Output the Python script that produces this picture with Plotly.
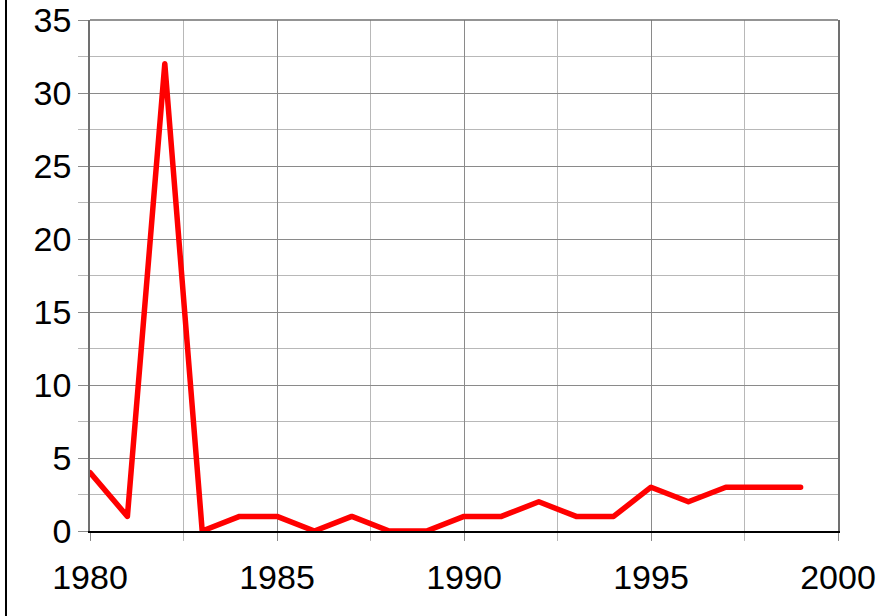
import plotly.graph_objects as go

years = list(range(1980, 2000))
values = [4, 1, 32, 0, 1, 1, 0, 1, 0, 0, 1, 1, 2, 1, 1, 3, 2, 3, 3, 3]

fig = go.Figure()
fig.add_trace(go.Scatter(x=years, y=values, mode="lines",
                         line=dict(color="#ff0000", width=5.5), showlegend=False))

font = dict(family="Liberation Sans, Arial, sans-serif", size=34, color="black")
fig.update_layout(
    width=881, height=616,
    margin=dict(l=90, r=43, t=20, b=85),
    paper_bgcolor="white", plot_bgcolor="white",
    font=font,
    xaxis=dict(range=[1980, 2000], dtick=5, tick0=1980, showgrid=True,
               gridcolor="#8a8a8a", gridwidth=1, automargin=False,
               minor=dict(dtick=2.5, showgrid=True, gridcolor="#b8b8b8",
                          ticks="outside", ticklen=8, tickcolor="#b8b8b8"),
               ticks="outside", ticklen=8, tickcolor="#8a8a8a",
               showline=True, linecolor="black", linewidth=1.5,
               zeroline=False, tickfont=font, ticklabelstandoff=7),
    yaxis=dict(range=[0, 35], dtick=5, showgrid=True, automargin=False,
               gridcolor="#8a8a8a", gridwidth=1,
               minor=dict(dtick=2.5, showgrid=True, gridcolor="#b8b8b8",
                          ticks="outside", ticklen=10, tickcolor="#b8b8b8"),
               ticks="outside", ticklen=10, tickcolor="#8a8a8a",
               showline=True, linecolor="#707070", linewidth=1.5, mirror=True,
               zeroline=False, tickfont=font, ticklabelstandoff=0),
    shapes=[
        dict(type="line", xref="paper", yref="paper", x0=0, x1=1, y0=1, y1=1,
             line=dict(color="#707070", width=1.5)),
        dict(type="line", xref="paper", yref="paper", x0=-0.1123, x1=-0.1123, y0=-0.2, y1=1.1,
             line=dict(color="black", width=2)),
    ],
)
fig.write_html("out.html", config={"displayModeBar": False},
               post_script="document.body.style.margin='0px';"
                           "document.querySelectorAll('.scatterlayer path.js-line').forEach(function(p){p.style.strokeLinejoin='round';p.style.strokeLinecap='round';});")
